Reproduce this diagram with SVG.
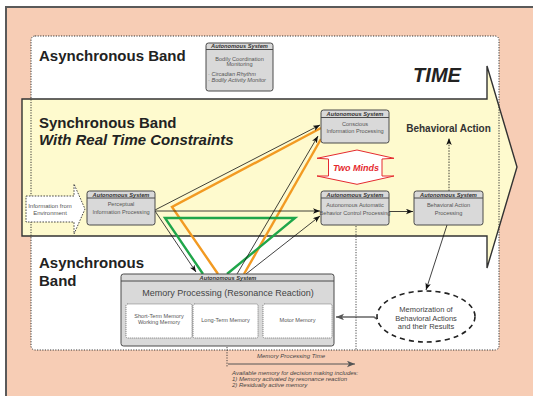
<svg xmlns="http://www.w3.org/2000/svg" width="533" height="396" viewBox="0 0 533 396">
<style>
.box{fill:#D9D9D9;stroke:#4a4a4a;stroke-width:1}
.hl{stroke:#4a4a4a;stroke-width:1}
.hdr{font-family:"Liberation Sans",Arial,sans-serif;font-weight:bold;font-style:italic;font-size:5.7px;fill:#333;text-anchor:middle}
.bt{font-family:"Liberation Sans",Arial,sans-serif;font-size:5.6px;fill:#555;text-anchor:middle}
.bl{font-family:"Liberation Sans",Arial,sans-serif;font-size:5.6px;fill:#555;font-style:italic}
.env{font-family:"Liberation Sans",Arial,sans-serif;font-size:6px;fill:#555;text-anchor:middle}
.mz{font-family:"Liberation Sans",Arial,sans-serif;font-size:7.5px;fill:#444;text-anchor:middle}
.big{font-family:"Liberation Sans",Arial,sans-serif;font-weight:bold;font-size:15px;fill:#222}
.ln{stroke:#111;stroke-width:0.8;fill:none}
.or{stroke:#F29A22;stroke-width:2.4;fill:none;stroke-linejoin:miter}
.gr{stroke:#1FA64A;stroke-width:2.4;fill:none;stroke-linejoin:miter}
.sm{font-family:"Liberation Sans",Arial,sans-serif;font-size:6px;fill:#444;font-style:italic}
</style>
<defs>
<marker id="ah" markerUnits="userSpaceOnUse" markerWidth="8" markerHeight="6" refX="7" refY="2.75" orient="auto">
<path d="M0,0 L7,2.75 L0,5.5 L1.8,2.75 z" fill="#111"/>
</marker>
<marker id="ahg" markerUnits="userSpaceOnUse" markerWidth="9" markerHeight="7" refX="8" refY="3.25" orient="auto">
<path d="M0,0 L8,3.25 L0,6.5 L2,3.25 z" fill="#555"/>
</marker>
</defs>
<!-- background -->
<rect x="6" y="7" width="540" height="400" fill="#F7CDB5" stroke="#5a5a5a" stroke-width="2"/>
<rect x="31" y="36" width="468" height="314" rx="4" fill="#FFFFFF"/>
<polygon points="22,99 487,99 487,66 517,167 487,268 487,236 22,236" fill="#FEFACE" stroke="#333" stroke-width="1.4"/>
<rect x="31" y="36" width="468" height="314" rx="4" fill="none" stroke="#333" stroke-width="1" stroke-dasharray="1.2 1.4"/>
<!-- band labels -->
<text class="big" x="39" y="61">Asynchronous Band</text>
<text class="big" x="39" y="128">Synchronous Band</text>
<text class="big" x="39" y="145" font-style="italic">With Real Time Constraints</text>
<text class="big" x="39" y="268">Asynchronous</text>
<text class="big" x="39" y="286">Band</text>
<text x="437" y="82" font-family="Liberation Sans,Arial,sans-serif" font-weight="bold" font-style="italic" font-size="20" fill="#222" text-anchor="middle">TIME</text>
<text x="448.5" y="132" font-family="Liberation Sans,Arial,sans-serif" font-weight="bold" font-size="10" fill="#333" text-anchor="middle">Behavioral Action</text>
<!-- connectors -->
<g id="connectors">
<polyline class="or" points="218,274 172,207 321,128"/>
<line class="or" x1="244" y1="274" x2="321" y2="139"/>
<polyline class="gr" points="203,274 165,218 295,218 227,274"/>
<line class="ln" x1="155" y1="210" x2="320" y2="125" marker-end="url(#ah)"/>
<line class="ln" x1="155" y1="211" x2="320" y2="211" marker-end="url(#ah)"/>
<line class="ln" x1="155" y1="211" x2="196" y2="272" marker-end="url(#ah)"/>
<line class="ln" x1="237" y1="274" x2="318" y2="136" marker-end="url(#ah)"/>
<line class="ln" x1="246" y1="274" x2="320" y2="216" marker-end="url(#ah)"/>
<line class="ln" x1="389" y1="211.5" x2="413" y2="211.5" stroke-width="1.1" marker-end="url(#ah)"/>
<line class="ln" x1="449" y1="191" x2="449" y2="138" stroke-dasharray="1.5 1.3" marker-end="url(#ah)"/>
<line class="ln" x1="447" y1="225" x2="426" y2="290" marker-end="url(#ah)"/>
<polyline points="377,319 374,317 336,317" fill="none" stroke="#666" stroke-width="1.6" marker-end="url(#ahg)"/>
<line x1="356" y1="226" x2="356" y2="350" stroke="#333" stroke-width="0.9" stroke-dasharray="1.2 1.4"/>
<line x1="227" y1="347" x2="227" y2="367" stroke="#333" stroke-width="0.9" stroke-dasharray="1.2 1.4"/>
<line x1="228" y1="364" x2="355" y2="364" stroke="#555" stroke-width="1" marker-end="url(#ahg)"/>
</g>
<text x="291" y="358" class="sm" text-anchor="middle">Memory Processing Time</text>
<text x="232" y="375" class="sm">Available memory for decision making includes:</text>
<text x="232" y="381" class="sm">1) Memory activated by resonance reaction</text>
<text x="232" y="387" class="sm">2) Residually active memory</text>
<!-- nodes -->
<g id="bodily">
<rect class="box" x="206" y="43" width="67" height="48" rx="2.5"/>
<line class="hl" x1="206" y1="49.5" x2="273" y2="49.5"/>
<text class="hdr" x="239.5" y="48">Autonomous System</text>
<text class="bt" x="239.5" y="60.5">Bodily Coordination</text>
<text class="bt" x="239.5" y="66">Monitoring</text>
<text class="bl" x="208" y="76">· Circadian Rhythm</text>
<text class="bl" x="208" y="81.5">· Bodily Activity Monitor</text>
</g>
<g id="info-env">
<polygon points="26,196 74,196 74,184 85,209 74,234 74,222 26,222" fill="#FFFFFF" stroke="#333" stroke-width="0.9" stroke-dasharray="1.6 1.3"/>
<text class="env" x="50" y="207.5">Information from</text>
<text class="env" x="50" y="215">Environment</text>
</g>
<g id="perceptual">
<rect class="box" x="87" y="191" width="68" height="34" rx="2.5"/>
<line class="hl" x1="87" y1="198" x2="155" y2="198"/>
<text class="hdr" x="121" y="196.5">Autonomous System</text>
<text class="bt" x="121" y="206">Perceptual</text>
<text class="bt" x="121" y="213.5">Information Processing</text>
</g>
<g id="conscious">
<rect class="box" x="321" y="110" width="68" height="33" rx="2.5"/>
<line class="hl" x1="321" y1="117.5" x2="389" y2="117.5"/>
<text class="hdr" x="355" y="116">Autonomous System</text>
<text class="bt" x="355" y="125.5">Conscious</text>
<text class="bt" x="355" y="133">Information Processing</text>
</g>
<g id="two-minds">
<polygon points="317,158.3 357,150 394,158.3 382,159 382,176 394,176 357,184.3 317,176 328.5,176 328.5,159" fill="#FFFFFF" stroke="#E52A2F" stroke-width="1"/>
<text x="356" y="171" font-family="Liberation Sans,Arial,sans-serif" font-weight="bold" font-style="italic" font-size="9" fill="#E52A2F" text-anchor="middle">Two Minds</text>
</g>
<g id="automatic">
<rect class="box" x="321" y="191" width="68" height="34" rx="2.5"/>
<line class="hl" x1="321" y1="198" x2="389" y2="198"/>
<text class="hdr" x="355" y="196.5">Autonomous System</text>
<text class="bt" x="355" y="207">Autonomous Automatic</text>
<text class="bt" x="355" y="214.5">Behavior Control Processing</text>
</g>
<g id="behavioral">
<rect class="box" x="414" y="191" width="69" height="34" rx="2.5"/>
<line class="hl" x1="414" y1="198" x2="483" y2="198"/>
<text class="hdr" x="448.5" y="196.5">Autonomous System</text>
<text class="bt" x="448.5" y="207">Behavioral Action</text>
<text class="bt" x="448.5" y="214.5">Processing</text>
</g>
<g id="memorization">
<ellipse cx="426" cy="316.5" rx="49" ry="25.5" fill="#FFFFFF" stroke="#222" stroke-width="1.6" stroke-dasharray="5 4"/>
<text class="mz" x="426" y="312">Memorization of</text>
<text class="mz" x="426" y="320.5">Behavioral Actions</text>
<text class="mz" x="426" y="329">and their Results</text>
</g>
<g id="memory">
<rect class="box" x="121" y="274" width="213" height="72" rx="2.5"/>
<line class="hl" x1="121" y1="281" x2="334" y2="281"/>
<text class="hdr" x="228" y="279.5">Autonomous System</text>
<text x="228" y="296" font-family="Liberation Sans,Arial,sans-serif" font-size="9" fill="#444" text-anchor="middle">Memory Processing (Resonance Reaction)</text>
<rect x="126" y="304" width="66" height="34" rx="1.5" fill="#FFFFFF" stroke="#555" stroke-width="0.8" stroke-dasharray="1 1"/>
<rect x="193" y="304" width="65" height="34" rx="1.5" fill="#FFFFFF" stroke="#555" stroke-width="0.8" stroke-dasharray="1 1"/>
<rect x="263" y="304" width="69" height="34" rx="1.5" fill="#FFFFFF" stroke="#555" stroke-width="0.8" stroke-dasharray="1 1"/>
<text class="bt" x="159" y="318">Short-Term Memory</text>
<text class="bt" x="159" y="324">Working Memory</text>
<text class="bt" x="225.5" y="322">Long-Term Memory</text>
<text class="bt" x="297.5" y="322">Motor Memory</text>
</g>
</svg>
